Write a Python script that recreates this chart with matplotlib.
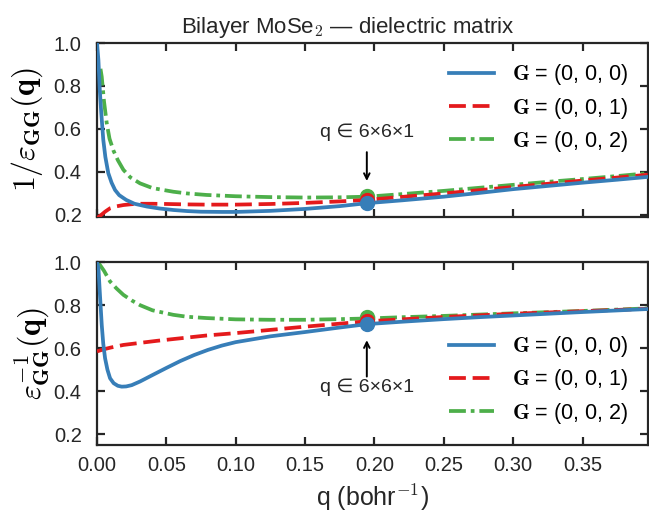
"""Bilayer MoSe2 dielectric matrix: 1/eps_GG(q) and eps^-1_GG(q) vs q."""
import matplotlib
matplotlib.use("Agg")
import matplotlib.pyplot as plt

plt.rcParams["font.family"] = ["Liberation Sans", "DejaVu Sans"]
plt.rcParams["mathtext.fontset"] = "cm"

BLUE, RED, GREEN = "#377eb8", "#e41a1c", "#4daf4a"
SPINE = "#262626"

# --- data ------------------------------------------------------------------
q_top_blue = [0.0, 0.001, 0.002, 0.003, 0.0045, 0.006, 0.0081, 0.0105, 0.013,
              0.016, 0.021, 0.027, 0.036, 0.045, 0.055, 0.065, 0.075, 0.09,
              0.1, 0.125, 0.15, 0.175, 0.195, 0.22, 0.25, 0.275, 0.3, 0.325,
              0.35, 0.375, 0.397]
v_top_blue = [1.0, 0.92, 0.78, 0.68, 0.55, 0.47, 0.395, 0.35, 0.316,
              0.292, 0.27, 0.252, 0.239, 0.23, 0.223, 0.218, 0.215, 0.214,
              0.214, 0.219, 0.228, 0.241, 0.255, 0.268, 0.285, 0.302, 0.32,
              0.335, 0.35, 0.364, 0.377]

q_top_red = [0.0, 0.003, 0.006, 0.0094, 0.014, 0.019, 0.025, 0.031, 0.04,
             0.05, 0.065, 0.079, 0.1, 0.125, 0.15, 0.175, 0.195, 0.22, 0.25,
             0.275, 0.3, 0.325, 0.35, 0.375, 0.397]
v_top_red = [0.185, 0.2, 0.216, 0.231, 0.24, 0.246, 0.25, 0.252, 0.252,
             0.251, 0.249, 0.248, 0.248, 0.251, 0.256, 0.263, 0.27, 0.284,
             0.3, 0.315, 0.33, 0.345, 0.36, 0.374, 0.387]

q_top_green = [0.0025, 0.0034, 0.005, 0.007, 0.009, 0.0118, 0.015, 0.019,
               0.024, 0.031, 0.04, 0.055, 0.065, 0.079, 0.1, 0.125, 0.15,
               0.175, 0.195, 0.22, 0.25, 0.275, 0.3, 0.325, 0.35, 0.375, 0.397]
v_top_green = [0.88, 0.843, 0.73, 0.627, 0.555, 0.50, 0.455, 0.41,
               0.375, 0.347, 0.325, 0.308, 0.30, 0.293, 0.287, 0.283, 0.281,
               0.282, 0.285, 0.297, 0.312, 0.326, 0.34, 0.354, 0.367, 0.381,
               0.394]

q_bot_blue = [0.0, 0.001, 0.002, 0.0034, 0.0045, 0.0058, 0.0075, 0.0094,
              0.012, 0.015, 0.0178, 0.021, 0.025, 0.031, 0.04, 0.05, 0.06,
              0.07, 0.08, 0.09, 0.1, 0.125, 0.15, 0.175, 0.195, 0.22, 0.25,
              0.275, 0.3, 0.35, 0.397]
v_bot_blue = [1.0, 0.972, 0.86, 0.708, 0.62, 0.553, 0.50, 0.46,
              0.437, 0.425, 0.421, 0.422, 0.428, 0.445, 0.475, 0.508, 0.54,
              0.568, 0.592, 0.612, 0.628, 0.655, 0.675, 0.696, 0.712, 0.723,
              0.735, 0.744, 0.752, 0.768, 0.782]

q_bot_red = [0.0, 0.005, 0.01, 0.019, 0.043, 0.079, 0.1, 0.15, 0.195, 0.25,
             0.3, 0.35, 0.397]
v_bot_red = [0.585, 0.595, 0.603, 0.615, 0.634, 0.659, 0.67, 0.70, 0.725,
             0.745, 0.76, 0.772, 0.783]

q_bot_green = [0.0, 0.002, 0.005, 0.0094, 0.014, 0.019, 0.025, 0.031, 0.04,
               0.055, 0.065, 0.079, 0.1, 0.125, 0.15, 0.175, 0.195, 0.22,
               0.25, 0.3, 0.35, 0.397]
v_bot_green = [1.0, 0.988, 0.96, 0.91, 0.878, 0.848, 0.822, 0.80, 0.776,
               0.755, 0.746, 0.74, 0.734, 0.732, 0.732, 0.735, 0.738, 0.744,
               0.75, 0.762, 0.773, 0.785]

q_mesh = 0.1945
mark_top = {"green": 0.287, "red": 0.27, "blue": 0.255}
mark_bot = {"green": 0.744, "red": 0.727, "blue": 0.712}

labels = [r"$\mathbf{G}$ = (0, 0, 0)", r"$\mathbf{G}$ = (0, 0, 1)",
          r"$\mathbf{G}$ = (0, 0, 2)"]
xticks = [0.0, 0.05, 0.10, 0.15, 0.20, 0.25, 0.30, 0.35]
yticks = [0.2, 0.4, 0.6, 0.8, 1.0]


def _style(ax, ylim):
    ax.set_xlim(0, 0.397)
    ax.set_ylim(*ylim)
    ax.set_xticks(xticks)
    ax.set_yticks(yticks)
    for sp in ax.spines.values():
        sp.set_color(SPINE)
        sp.set_linewidth(1.6)
    ax.tick_params(direction="in", length=6, width=1.6, color=SPINE,
                   top=True, right=True, labelsize=14.5, pad=8,
                   labelcolor=SPINE)
    ax.tick_params(axis="y", pad=11)


def _curves(ax, data, marks):
    (qb, vb), (qr, vr), (qg, vg) = data
    lb, = ax.plot(qb, vb, color=BLUE, lw=2.7, zorder=4, label=labels[0],
                  solid_joinstyle="round")
    lr, = ax.plot(qr, vr, color=RED, lw=2.7, ls=(0, (4.5, 1.8)), zorder=3,
                  label=labels[1])
    lg, = ax.plot(qg, vg, color=GREEN, lw=2.7, ls=(0, (4.5, 1.3, 1, 1.3)),
                  zorder=2, label=labels[2])
    ax.plot([q_mesh], [marks["green"]], "o", color=GREEN, ms=10, zorder=5)
    ax.plot([q_mesh], [marks["red"]], "o", color=RED, ms=10, zorder=6)
    ax.plot([q_mesh], [marks["blue"]], "o", color=BLUE, ms=10, zorder=7)
    return [lb, lr, lg]


fig = plt.figure(figsize=(6.49, 5.12), dpi=100)
ax1 = fig.add_axes([0.1495, 0.576, 0.8485, 0.340])
ax2 = fig.add_axes([0.1495, 0.131, 0.8485, 0.357])

# top panel
h1 = _curves(ax1, [(q_top_blue, v_top_blue), (q_top_red, v_top_red),
                   (q_top_green, v_top_green)], mark_top)
_style(ax1, (0.19, 1.0))
ax1.set_xticklabels([])
ax1.set_ylabel(r"$1/\varepsilon_{\mathbf{GG}}(\mathbf{q})$", fontsize=23,
               labelpad=6)
ax1.set_title(r"Bilayer MoSe$_{\mathsf{2}}$ — dielectric matrix",
              fontsize=16, color=SPINE, pad=7, x=0.455)
ax1.annotate("", xy=(q_mesh, 0.345), xytext=(q_mesh, 0.505),
             arrowprops=dict(arrowstyle="->", lw=1.4, color="black"))
ax1.text(q_mesh, 0.585, "q ∈ 6×6×1", ha="center", va="center", fontsize=14,
         color=SPINE, family=["Liberation Sans", "DejaVu Sans"])
ax1.legend(h1, labels, loc="upper right", frameon=False, fontsize=15.5,
           handlelength=2.1, handletextpad=0.85, labelspacing=0.38,
           borderaxespad=0.5)

# bottom panel
h2 = _curves(ax2, [(q_bot_blue, v_bot_blue), (q_bot_red, v_bot_red),
                   (q_bot_green, v_bot_green)], mark_bot)
_style(ax2, (0.15, 1.0))
ax2.set_xticklabels([f"{t:.2f}" for t in xticks])
ax2.set_xlabel(r"q (bohr$^{\mathsf{-1}}$)", fontsize=18, color=SPINE,
               labelpad=5)
ax2.set_ylabel(r"$\varepsilon^{-1}_{\mathbf{GG}}(\mathbf{q})$", fontsize=23,
               labelpad=1)
ax2.annotate("", xy=(q_mesh, 0.65), xytext=(q_mesh, 0.455),
             arrowprops=dict(arrowstyle="->", lw=1.4, color="black"))
ax2.text(q_mesh, 0.42, "q ∈ 6×6×1", ha="center", va="center", fontsize=14,
         color=SPINE, family=["Liberation Sans", "DejaVu Sans"])
ax2.legend(h2, labels, loc="lower right", frameon=False, fontsize=15.5,
           handlelength=2.1, handletextpad=0.85, labelspacing=0.38,
           borderaxespad=0.5)

fig.savefig("out.png", dpi=100)
